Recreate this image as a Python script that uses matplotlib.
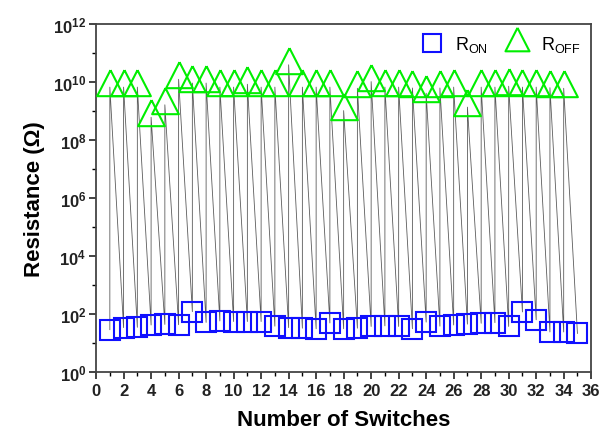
import matplotlib
matplotlib.use("Agg")
import matplotlib.pyplot as plt
from matplotlib.ticker import NullFormatter
import numpy as np

plt.rcParams["font.family"] = ["Liberation Sans", "DejaVu Sans"]
plt.rcParams["font.weight"] = "bold"
plt.rcParams["mathtext.default"] = "regular"

# data: log10 of resistance
on_switch = list(range(1, 36))
on_log = [1.45, 1.52, 1.53, 1.61, 1.63, 1.62, 2.07, 1.70, 1.75, 1.73,
          1.73, 1.73, 1.57, 1.52, 1.50, 1.48, 1.68, 1.48, 1.50, 1.56,
          1.58, 1.56, 1.48, 1.71, 1.57, 1.61, 1.64, 1.67, 1.69, 1.56,
          2.06, 1.79, 1.37, 1.37, 1.32]
off_switch = list(range(1, 35))
off_log = [9.81, 9.81, 9.81, 8.77, 9.20, 10.08, 9.95, 9.95, 9.81, 9.81,
           9.91, 9.81, 9.81, 10.58, 9.81, 9.81, 9.81, 9.00, 9.77, 10.00,
           9.81, 9.81, 9.78, 9.60, 9.78, 9.81, 9.12, 9.81, 9.81, 9.84,
           9.81, 9.81, 9.79, 9.77]

r_on = 10 ** np.array(on_log)
r_off = 10 ** np.array(off_log)

# zigzag path ON(i) -> OFF(i) -> ON(i+1)
zx, zy = [], []
for i in range(len(off_switch)):
    zx += [on_switch[i], off_switch[i]]
    zy += [r_on[i], r_off[i]]
zx.append(on_switch[-1])
zy.append(r_on[-1])

fig = plt.figure(figsize=(6.12, 4.39), dpi=100)
ax = fig.add_axes([0.157, 0.151, 0.809, 0.793])

ax.plot(zx, zy, color="#333333", lw=0.6, alpha=0.8, zorder=1)

# triangle with its centroid at the data point
tri = [(0, 1.3), (-1, -0.65), (1, -0.65), (0, 1.3)]
ax.plot(on_switch, r_on, ls="none", marker="s", ms=14.5, mfc="none",
        mec="#1010ff", mew=1.5, label=r"R$_{ON}$", zorder=3)
ax.plot(off_switch, r_off, ls="none", marker=tri, ms=25, mfc="none",
        mec="#00ee00", mew=1.5, label=r"R$_{OFF}$", zorder=3)

ax.set_yscale("log")
ax.set_xlim(0, 36)
ax.set_ylim(1, 1e12)
ax.set_xticks(range(0, 37, 2))
ax.set_xticks(range(0, 37, 1), minor=True)
ax.set_yticks([10.0 ** k for k in range(0, 13, 2)])
ax.set_yticks([10.0 ** k for k in range(1, 12, 2)], minor=True)
ax.set_yticklabels([r"10$^{%d}$" % k for k in range(0, 13, 2)])
ax.yaxis.set_minor_formatter(NullFormatter())
ax.tick_params(axis="both", which="major", direction="out", length=5,
               width=1.2, labelsize=12, colors="#222222")
ax.tick_params(axis="both", which="minor", direction="out", length=3,
               width=1.0)
ax.tick_params(axis="y", pad=2)
ax.tick_params(axis="x", pad=3)
for lab in ax.get_xticklabels() + ax.get_yticklabels():
    lab.set_fontweight("bold")
for sp in ax.spines.values():
    sp.set_linewidth(1.3)
    sp.set_color("#444444")

ax.set_xlabel("Number of Switches", fontsize=16, fontweight="bold", labelpad=8)
ax.set_ylabel("Resistance (Ω)", fontsize=16, fontweight="bold", labelpad=6)

leg = ax.legend(loc="upper right", ncol=2, frameon=False, fontsize=13,
                handletextpad=0.3, columnspacing=0.6, borderaxespad=0.2,
                markerscale=0.9)
for t in leg.get_texts():
    t.set_fontweight("normal")

fig.savefig("out.png", dpi=100)
